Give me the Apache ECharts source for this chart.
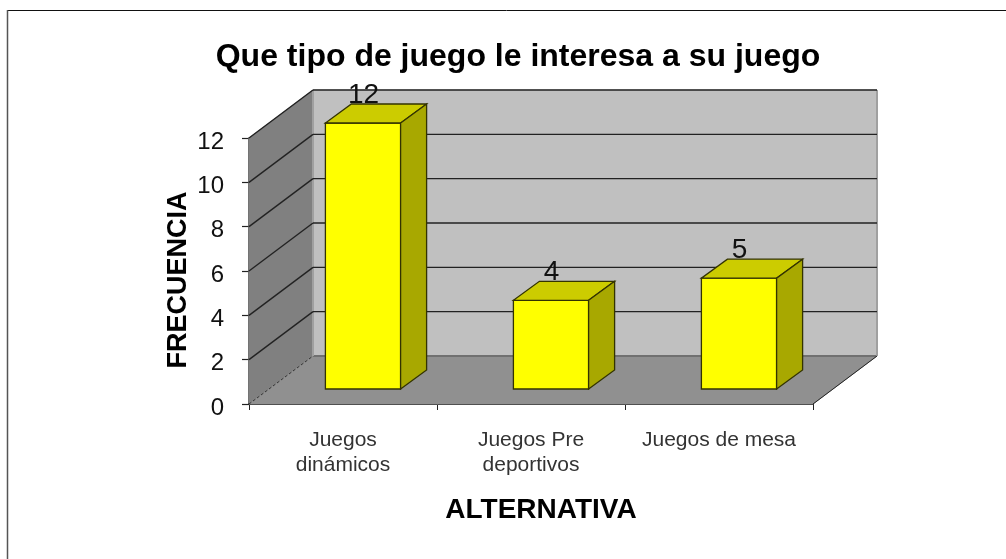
<!DOCTYPE html>
<html>
<head>
<meta charset="utf-8">
<title>Que tipo de juego le interesa a su juego</title>
<script src="https://cdn.jsdelivr.net/npm/echarts@6/dist/echarts.min.js"></script>
<style>
html, body { margin: 0; padding: 0; background: #fff; }
#chart { width: 1006px; height: 559px; }
</style>
</head>
<body>
<div id="chart"></div>
<script>
const categories = ['Juegos\ndinámicos', 'Juegos Pre\ndeportivos', 'Juegos de mesa']
const frecuencia = [12, 4, 5]
const yTicks = [0, 2, 4, 6, 8, 10, 12]

const FONT = '"Liberation Sans", Arial, sans-serif'
// fake 3d: how far the back wall and the bars are pushed
const WALL_DX = 64, WALL_DY = -48
const BAR_SHIFT_X = 20, BAR_SHIFT_Y = -15
const BAR_DX = 26, BAR_DY = -19
const BAR_WIDTH = 0.4
const LINE = '#222'

function poly(points, fill, stroke, width) {
    return {
        type: 'polygon',
        shape: { points },
        style: { fill, stroke: stroke || fill, lineWidth: width === undefined ? 1 : width }
    }
}

function segment(a, b, stroke, width, dash) {
    return {
        type: 'line',
        shape: { x1: a[0], y1: a[1], x2: b[0], y2: b[1] },
        style: { stroke, lineWidth: width || 1, lineDash: dash || null }
    }
}

function renderWalls(params, api) {
    const band = api.size([1, 0])[0]
    const zero = api.coord([0, 0])
    const x0 = zero[0] - band / 2
    const x1 = api.coord([categories.length - 1, 0])[0] + band / 2
    const top = api.coord([0, yTicks[yTicks.length - 1]])[1]
    const y0 = zero[1]
    const back = (p) => [p[0] + WALL_DX, p[1] + WALL_DY]

    const children = [
        poly([back([x0, top]), back([x1, top]), back([x1, y0]), back([x0, y0])], '#c0c0c0', '#c0c0c0'),
        poly([[x0, top], back([x0, top]), back([x0, y0]), [x0, y0]], '#808080', '#808080'),
        poly([[x0, y0], [x1, y0], back([x1, y0]), back([x0, y0])], '#909090', '#909090'),
        segment(back([x0, y0]), back([x1, y0]), '#707070', 2),
        segment(back([x1, top]), back([x1, y0]), '#a0a0a0', 2),
        segment(back([x0, top]), back([x0, y0]), '#a0a0a0', 2),
        segment([x0, y0], back([x0, y0]), '#333', 1, [3, 2]),
        segment([x1, y0], back([x1, y0]), LINE, 1)
    ]
    yTicks.forEach((t) => {
        if (t === 0) return
        const y = api.coord([0, t])[1]
        children.push(segment([x0, y], back([x0, y]), LINE, 1.4))
        children.push(segment(back([x0, y]), back([x1, y]), LINE, 1.4))
    })
    return { type: 'group', children }
}

function renderBar(params, api) {
    const band = api.size([1, 0])[0]
    const w = band * BAR_WIDTH
    const base = api.coord([api.value(0), 0])
    const head = api.coord([api.value(0), api.value(1)])
    const x0 = base[0] + BAR_SHIFT_X - w / 2
    const x1 = x0 + w
    const yb = base[1] + BAR_SHIFT_Y
    const yt = head[1] + BAR_SHIFT_Y
    const edge = '#333300'
    return {
        type: 'group',
        children: [
            poly([[x0, yb], [x1, yb], [x1, yt], [x0, yt]], '#ffff00', edge, 1.3),
            poly([[x0, yt], [x1, yt], [x1 + BAR_DX, yt + BAR_DY], [x0 + BAR_DX, yt + BAR_DY]], '#cccc00', edge, 1.3),
            poly([[x1, yb], [x1 + BAR_DX, yb + BAR_DY], [x1 + BAR_DX, yt + BAR_DY], [x1, yt]], '#a8a800', edge, 1.3),
            {
                type: 'text',
                style: {
                    text: String(api.value(1)),
                    x: (x0 + x1) / 2 + 0.5,
                    y: yt + BAR_DY + 5,
                    align: 'center',
                    verticalAlign: 'bottom',
                    font: '28px ' + FONT,
                    fill: '#111'
                }
            }
        ]
    }
}

const chart = echarts.init(document.getElementById('chart'), null, { renderer: 'canvas' })
chart.setOption({
    animation: false,
    backgroundColor: '#fff',
    title: {
        text: 'Que tipo de juego le interesa a su juego',
        left: 513,
        top: 36,
        textAlign: 'center',
        textStyle: { fontFamily: FONT, fontSize: 32, fontWeight: 'bold', color: '#000' }
    },
    graphic: [
        { type: 'line', shape: { x1: 7, y1: 10.5, x2: 1006, y2: 10.5 }, style: { stroke: '#111', lineWidth: 1 } },
        { type: 'line', shape: { x1: 7.5, y1: 10, x2: 7.5, y2: 559 }, style: { stroke: '#555', lineWidth: 1.5 } }
    ],
    grid: { left: 249, right: 193, top: 138, bottom: 155 },
    xAxis: {
        type: 'category',
        data: categories,
        name: 'ALTERNATIVA',
        nameLocation: 'middle',
        nameGap: 92,
        nameMoveOverlap: false,
        nameTextStyle: { fontFamily: FONT, fontSize: 28, fontWeight: 'bold', color: '#000', padding: [0, 0, 0, 20] },
        axisLine: { onZero: false, lineStyle: { color: '#111', width: 2 } },
        axisTick: { show: true, length: 6, lineStyle: { color: '#222' } },
        axisLabel: { fontFamily: FONT, fontSize: 21, color: '#333', lineHeight: 25, margin: 24, interval: 0 },
        splitLine: { show: false }
    },
    yAxis: {
        type: 'value',
        min: 0,
        max: 12,
        interval: 2,
        name: 'FRECUENCIA',
        nameLocation: 'middle',
        nameGap: 57,
        nameMoveOverlap: false,
        nameTextStyle: { fontFamily: FONT, fontSize: 27, fontWeight: 'bold', color: '#000', padding: [0, 18, 0, 0] },
        axisLine: { show: true, lineStyle: { color: '#333', width: 1.5 } },
        axisTick: { show: true, length: 7, lineStyle: { color: '#222', width: 1.2 } },
        axisLabel: {
            margin: 25,
            formatter: (v) => '{d|' + v + '}',
            rich: { d: { fontFamily: FONT, fontSize: 24, color: '#111', padding: [8, 0, 0, 0] } }
        },
        splitLine: { show: false }
    },
    series: [
        {
            type: 'custom',
            name: 'paredes',
            coordinateSystem: 'cartesian2d',
            clip: false,
            silent: true,
            z: 1,
            data: [[0, 0]],
            renderItem: renderWalls
        },
        {
            type: 'custom',
            name: 'Frecuencia',
            coordinateSystem: 'cartesian2d',
            clip: false,
            z: 2,
            encode: { x: 0, y: 1 },
            data: frecuencia.map((v, i) => [i, v]),
            renderItem: renderBar
        }
    ]
})
</script>
</body>
</html>
